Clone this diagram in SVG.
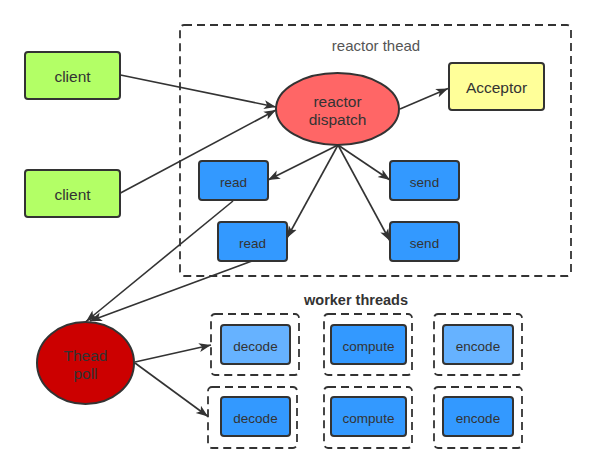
<svg xmlns="http://www.w3.org/2000/svg" width="596" height="473" viewBox="0 0 596 473">
<defs>
<marker id="arr" viewBox="0 0 12 10" refX="12" refY="5" markerWidth="12" markerHeight="10" markerUnits="userSpaceOnUse" orient="auto">
<path d="M0,0.5 L12,5 L0,9.5 L3,5 Z" fill="#333"/>
</marker>
<style>
.n{stroke:#333;stroke-width:2}
.d{fill:none;stroke:#333;stroke-width:1.8;stroke-dasharray:8 5}
.t{font-family:"Liberation Sans",Arial,sans-serif;fill:#333;text-anchor:middle}
.c{stroke:#333;stroke-width:1.6;fill:none;marker-end:url(#arr)}
.g{fill:#b3ff66}
.b{fill:#3399ff}
.lb{fill:#66b2ff}
</style>
</defs>
<rect width="596" height="473" fill="#fff"/>
<g id="reactor-thread">
<rect class="d" x="180" y="25" width="391" height="251" rx="4"/>
<text class="t" x="376" y="51" font-size="15" style="fill:#555">reactor thead</text>
</g>
<g id="client1"><rect class="n g" x="25" y="52" width="95" height="47" rx="3"/><text class="t" x="72.5" y="82" font-size="15.5">client</text></g>
<g id="client2"><rect class="n g" x="25" y="170" width="95" height="47" rx="3"/><text class="t" x="72.5" y="200" font-size="15.5">client</text></g>
<g id="reactor-dispatch"><ellipse class="n" cx="337.5" cy="109" rx="61.5" ry="36" fill="#ff6666"/><text class="t" x="337.5" y="107" font-size="15.5">reactor</text><text class="t" x="337.5" y="125" font-size="15.5">dispatch</text></g>
<g id="acceptor"><rect class="n" x="449" y="63" width="95" height="47" rx="3" fill="#ffff99"/><text class="t" x="496.5" y="93" font-size="15.5">Acceptor</text></g>
<g id="read1"><rect class="n b" x="199" y="161" width="69" height="39" rx="3"/><text class="t" x="233.5" y="187" font-size="13.5">read</text></g>
<g id="read2"><rect class="n b" x="218" y="222" width="69" height="39" rx="3"/><text class="t" x="252.5" y="248" font-size="13.5">read</text></g>
<g id="send1"><rect class="n b" x="390" y="161" width="69" height="39" rx="3"/><text class="t" x="424.5" y="187" font-size="13.5">send</text></g>
<g id="send2"><rect class="n b" x="390" y="222" width="69" height="39" rx="3"/><text class="t" x="424.5" y="248" font-size="13.5">send</text></g>
<g id="thread-pool"><ellipse class="n" cx="85.5" cy="363" rx="48.5" ry="41" fill="#cc0000"/><text class="t" x="85.5" y="361" font-size="15.5">Thead</text><text class="t" x="85.5" y="379" font-size="15.5">poll</text></g>
<g id="worker-threads-label"><text class="t" x="356" y="305" font-size="14.5" font-weight="bold">worker threads</text></g>
<g id="worker1">
<rect class="d" x="211" y="314" width="88" height="61" rx="4"/>
<rect class="d" x="324" y="314" width="88" height="61" rx="4"/>
<rect class="d" x="434" y="314" width="88" height="61" rx="4"/>
<g id="decode1"><rect class="n lb" x="221" y="325" width="69" height="39" rx="3"/><text class="t" x="255.5" y="351" font-size="13.5">decode</text></g>
<g id="compute1"><rect class="n b" x="331" y="325" width="75" height="39" rx="3"/><text class="t" x="368.5" y="351" font-size="13.5">compute</text></g>
<g id="encode1"><rect class="n lb" x="443" y="325" width="70" height="39" rx="3"/><text class="t" x="478" y="351" font-size="13.5">encode</text></g>
</g>
<g id="worker2">
<rect class="d" x="208" y="387" width="89" height="61" rx="4"/>
<rect class="d" x="324" y="387" width="88" height="61" rx="4"/>
<rect class="d" x="434" y="387" width="88" height="61" rx="4"/>
<g id="decode2"><rect class="n b" x="221" y="397" width="69" height="39" rx="3"/><text class="t" x="255.5" y="423" font-size="13.5">decode</text></g>
<g id="compute2"><rect class="n b" x="331" y="397" width="75" height="39" rx="3"/><text class="t" x="368.5" y="423" font-size="13.5">compute</text></g>
<g id="encode2"><rect class="n b" x="443" y="397" width="70" height="39" rx="3"/><text class="t" x="478" y="423" font-size="13.5">encode</text></g>
</g>
<g id="connectors">
<line class="c" x1="120.5" y1="75" x2="276" y2="107"/>
<line class="c" x1="120.5" y1="193" x2="276" y2="110"/>
<line class="c" x1="400" y1="109" x2="448" y2="88.5"/>
<line class="c" x1="338" y1="145" x2="268" y2="180"/>
<line class="c" x1="338" y1="145" x2="287" y2="238"/>
<line class="c" x1="338" y1="145" x2="390" y2="180"/>
<line class="c" x1="338" y1="145" x2="390" y2="241"/>
<line class="c" x1="233" y1="201" x2="86" y2="321.5"/>
<line class="c" x1="252" y1="261" x2="90" y2="321"/>
<line class="c" x1="135" y1="362" x2="211" y2="345"/>
<line class="c" x1="135" y1="363" x2="208" y2="416.5"/>
</g>
</svg>
